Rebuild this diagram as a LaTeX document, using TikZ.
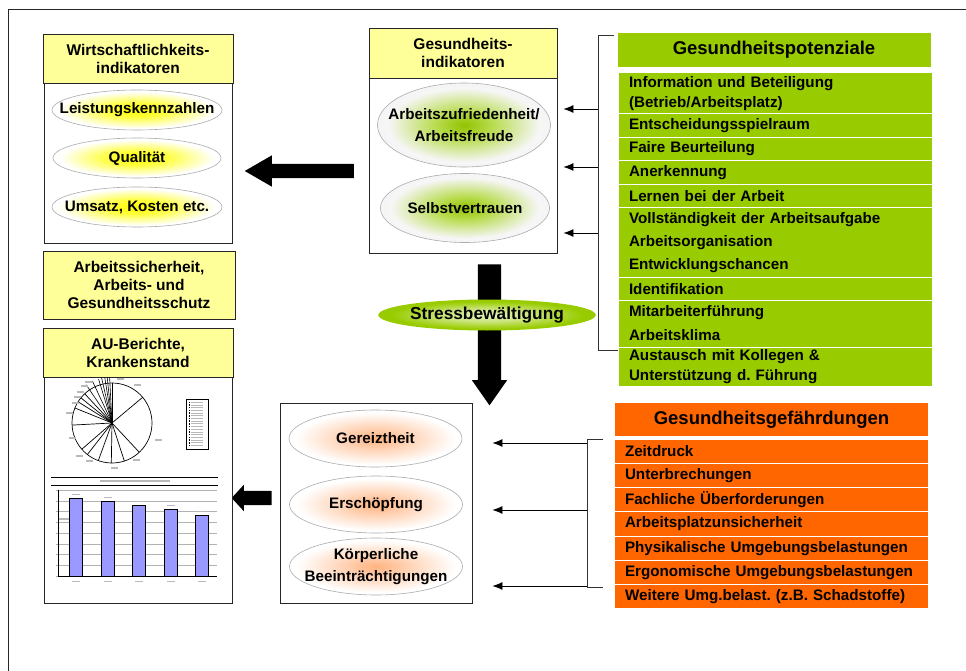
\documentclass[tikz,border=0pt]{standalone}
\usepackage{fontspec}
\setmainfont{Liberation Sans}
\usetikzlibrary{arrows.meta, shapes.geometric, shapes.arrows}
\frenchspacing

\definecolor{headyellow}{HTML}{FFFF99}
\definecolor{potgreen}{HTML}{99CC00}
\definecolor{riskorange}{HTML}{FF6600}
\definecolor{barblue}{HTML}{9999FF}

\pgfdeclareradialshading{yellowglow}{\pgfpoint{0bp}{0bp}}{%
  color(0bp)=(yellow); color(9bp)=(yellow!75!white);
  color(23bp)=(white); color(30bp)=(white); color(50bp)=(white)}
\pgfdeclareradialshading{greenglow}{\pgfpoint{0bp}{0bp}}{%
  color(0bp)=(potgreen!95!black); color(8bp)=(potgreen!70!white);
  color(22bp)=(gray!7); color(30bp)=(gray!10); color(50bp)=(gray!10)}
\pgfdeclareradialshading{orangeglow}{\pgfpoint{0bp}{0bp}}{%
  color(0bp)=(riskorange!50!white); color(9bp)=(riskorange!30!white);
  color(23bp)=(white); color(30bp)=(white); color(50bp)=(white)}
\pgfdeclareradialshading{stressglow}{\pgfpoint{0bp}{0bp}}{%
  color(0bp)=(potgreen!25!white); color(10bp)=(potgreen!50!white);
  color(22bp)=(potgreen); color(30bp)=(potgreen); color(50bp)=(potgreen)}

\tikzset{
  box/.style={draw=black!85, line width=0.9pt, fill=white, inner sep=0pt},
  headbox/.style={box, fill=headyellow, align=center,
    font=\fontsize{15.5}{18}\selectfont\bfseries},
  glowell/.style={ellipse, draw=gray!65, line width=0.6pt, inner sep=0pt, shade},
  yellowell/.style={glowell, shading=yellowglow},
  greenell/.style={glowell, shading=greenglow},
  orangeell/.style={glowell, shading=orangeglow, minimum width=173, minimum height=57},
  elltext/.style={align=center, inner sep=0pt,
    font=\fontsize{15.2}{22}\selectfont\bfseries},
  listhead/.style={minimum width=313, inner sep=0pt,
    font=\fontsize{18.5}{20}\selectfont\bfseries},
  listrow/.style={text width=293, inner xsep=10, inner ysep=0pt,
    minimum height=22.5, align=left, font=\fontsize{15.2}{20}\selectfont\bfseries},
  potrow/.style={listrow, fill=potgreen},
  riskrow/.style={listrow, fill=riskorange, minimum height=23},
  blockarrow/.style={single arrow, fill=black},
  brace/.style={draw=black!80, line width=0.8pt},
  ptr/.style={draw=black, line width=0.7pt, -{Latex[length=10pt,width=8pt]}},
  tinytext/.style={fill=gray!55}
}

\begin{document}
\begin{tikzpicture}[x=1pt, y=-1pt]
  \useasboundingbox (0,0) rectangle (966,671);
  % Frame
  \draw[line width=1pt, black!85] (8,700) -- (8,10) -- (1000,10);

  % Wirtschaftlichkeitsindikatoren
  \node[box, minimum width=188, minimum height=160] (econbox) at (138,163) {};
  \node[headbox, minimum width=190, minimum height=49] (econhead) at (138,58.5) {Wirtschaftlichkeits-\\indikatoren};
  \node[yellowell, minimum width=170, minimum height=40] (perf) at (137,110) {};
  \node[elltext] (perf-t) at (perf) {Leistungskennzahlen};
  \node[yellowell, minimum width=168, minimum height=40] (qual) at (137,158) {};
  \node[elltext] (qual-t) at (qual) {Qualität};
  \node[yellowell, minimum width=170, minimum height=40] (sales) at (137,207) {};
  \node[elltext] (sales-t) at (sales) {Umsatz, Kosten etc.};

  % Gesundheitsindikatoren
  \node[box, minimum width=188, minimum height=175] (healthbox) at (463,165.5) {};
  \node[headbox, minimum width=188, minimum height=50] (healthhead) at (463,53) {Gesundheits-\\indikatoren};
  \node[greenell, minimum width=173, minimum height=84] (satis) at (464,125) {};
  \node[elltext] (satis-t) at (satis) {Arbeitszufriedenheit/\\Arbeitsfreude};
  \node[greenell, minimum width=169, minimum height=69] (conf) at (465,208) {};
  \node[elltext] (conf-t) at (conf) {Selbstvertrauen};

  % Blockpfeile
  \node[blockarrow, inner sep=7, minimum height=109, single arrow head extend=8.5,
    single arrow tip angle=60, shape border rotate=180] (toecon) at (305.5,171) {};
  \node[blockarrow, inner sep=11.5, minimum height=141, single arrow head extend=6,
    single arrow tip angle=70, shape border rotate=270] (tostrain) at (489.5,326.5) {};
  \node[ellipse, shade, shading=stressglow, minimum width=217, minimum height=31, inner sep=0pt,
    font=\fontsize{17.3}{20}\selectfont\bfseries] (coping) at (487,315) {Stressbewältigung};
  \node[blockarrow, inner sep=7, minimum height=40, single arrow head extend=6,
    single arrow tip angle=95, shape border rotate=180] (toau) at (255,498) {};

  % Arbeitssicherheit
  \node[headbox, minimum width=192, minimum height=68] (safety) at (139,285) {Arbeitssicherheit,\\Arbeits- und\\Gesundheitsschutz};

  % AU-Berichte
  \node[box, minimum width=188, minimum height=226] (aubox) at (138,490) {};
  \node[headbox, minimum width=190, minimum height=49] (auhead) at (138,352.5) {AU-Berichte,\\Krankenstand};

  % Kuchendiagramm
  \node[circle, draw, line width=0.7pt, minimum size=80, inner sep=0pt] (pie) at (112,423) {};
  \foreach \a in {-90,-40,47,72,91,110,128,139,177,-158,-148,-141,-133}
    \draw[line width=0.7pt] (pie.center) -- ++(\a:40);
  \foreach \a in {-93,-96,-99,-103,-107,-115,-124}
    \draw[line width=0.6pt] (pie.center) -- ++(\a:46);
  \foreach \x/\y in {137/385, 158/440, 136/460, 114/468, 89/461, 79/456, 72/438,
                     69/413, 75/403, 77/397, 80/392, 84/386, 88/382, 120/379}
    \fill[tinytext] (\x-3.5,\y-1) rectangle (\x+3.5,\y+1);
  \draw[line width=0.6pt] (186,399) rectangle (208,449);
  \foreach \i in {0,...,16} {
    \fill (188.5,401.5+2.7*\i) rectangle ++(1.5,1.5);
    \fill[gray!55] (191,401.8+2.7*\i) rectangle ++(12,1);
  }

  % Balkendiagramm
  \draw[line width=0.7pt] (51,477) -- (218,477);
  \draw[line width=0.7pt] (51,485) -- (218,485);
  \fill[tinytext] (100,480.3) rectangle (170,481.7);
  \foreach \y in {490,500.75,...,577}
    \draw[gray!60, line width=0.4pt] (56,\y) -- (217,\y);
  \draw[line width=0.5pt] (58,490) -- (58,576) -- (217,576);
  \fill[tinytext] (59,518.3) rectangle (78,519.7);
  \foreach \c/\t in {76/498, 107.5/501, 139/505, 170.5/509, 202/515} {
    \draw[fill=barblue, line width=0.6pt] (\c-6.5,576) rectangle (\c+6.5,\t);
    \fill[tinytext] (\c-4,\t-4) rectangle (\c+4,\t-2.6);
    \fill[tinytext] (\c-4,581) rectangle (\c+4,582.4);
  }

  % Beanspruchungsfolgen
  \node[box, minimum width=192, minimum height=200] (strainbox) at (376,503) {};
  \node[orangeell] (irrit) at (375.5,438.5) {};
  \node[elltext] (irrit-t) at (irrit) {Gereiztheit};
  \node[orangeell] (exhaust) at (376,504.5) {};
  \node[elltext] (exhaust-t) at (exhaust) {Erschöpfung};
  \node[orangeell] (body) at (376,566.5) {};
  \node[elltext] (body-t) at (body) {Körperliche\\Beeinträchtigungen};

  % Gesundheitspotenziale
  \node[listhead, fill=potgreen, minimum height=34] (pothead) at (774,50) {Gesundheitspotenziale};
  \node[potrow, minimum height=40.5] (pot1) at (775.5,93.25) {Information und Beteiligung\\(Betrieb/Arbeitsplatz)};
  \node[potrow] (pot2) at (775.5,125.5) {Entscheidungsspielraum};
  \node[potrow] (pot3) at (775.5,149) {Faire Beurteilung};
  \node[potrow] (pot4) at (775.5,172.5) {Anerkennung};
  \node[potrow] (pot5) at (775.5,196) {Lernen bei der Arbeit};
  \node[potrow] (pot6) at (775.5,219.5) {Vollständigkeit der Arbeitsaufgabe};
  \node[potrow] (pot7) at (775.5,242.5) {Arbeitsorganisation};
  \node[potrow] (pot8) at (775.5,265.5) {Entwicklungschancen};
  \node[potrow] (pot9) at (775.5,289) {Identifikation};
  \node[potrow] (pot10) at (775.5,312.5) {Mitarbeiterführung};
  \node[potrow] (pot11) at (775.5,335.5) {Arbeitsklima};
  \node[potrow, minimum height=38.5] (pot12) at (775.5,366.75) {Austausch mit Kollegen \&\\Unterstützung d. Führung};

  \draw[brace] (614,35) -- (598,35) -- (598,350) -- (618,350);
  \coordinate (potin1) at (598,109);
  \coordinate (potin2) at (598,167);
  \coordinate (potin3) at (598,233);
  \draw[ptr, shorten >=6pt] (potin1) -- (potin1 -| healthbox.east);
  \draw[ptr, shorten >=6pt] (potin2) -- (potin2 -| healthbox.east);
  \draw[ptr, shorten >=6pt] (potin3) -- (potin3 -| healthbox.east);

  % Gesundheitsgefaehrdungen
  \node[listhead, fill=riskorange, minimum height=33] (riskhead) at (771.5,419.5) {Gesundheitsgefährdungen};
  \node[riskrow] (risk1) at (771.5,451.5) {Zeitdruck};
  \node[riskrow] (risk2) at (771.5,475.5) {Unterbrechungen};
  \node[riskrow] (risk3) at (771.5,499.5) {Fachliche Überforderungen};
  \node[riskrow, minimum height=24] (risk4) at (771.5,524) {Arbeitsplatzunsicherheit};
  \node[riskrow] (risk5) at (771.5,548.5) {Physikalische Umgebungsbelastungen};
  \node[riskrow] (risk6) at (771.5,572.5) {Ergonomische Umgebungsbelastungen};
  \node[riskrow] (risk7) at (771.5,596.5) {Weitere Umg.belast. (z.B. Schadstoffe)};

  \draw[brace] (603,439) -- (587,439) -- (587,587) -- (603,587);
  \coordinate (riskin1) at (587,443);
  \coordinate (riskin2) at (587,510);
  \coordinate (riskin3) at (587,586);
  \draw[ptr, shorten >=20pt] (riskin1) -- (riskin1 -| strainbox.east);
  \draw[ptr, shorten >=20pt] (riskin2) -- (riskin2 -| strainbox.east);
  \draw[ptr, shorten >=20pt] (riskin3) -- (riskin3 -| strainbox.east);
\end{tikzpicture}
\end{document}
